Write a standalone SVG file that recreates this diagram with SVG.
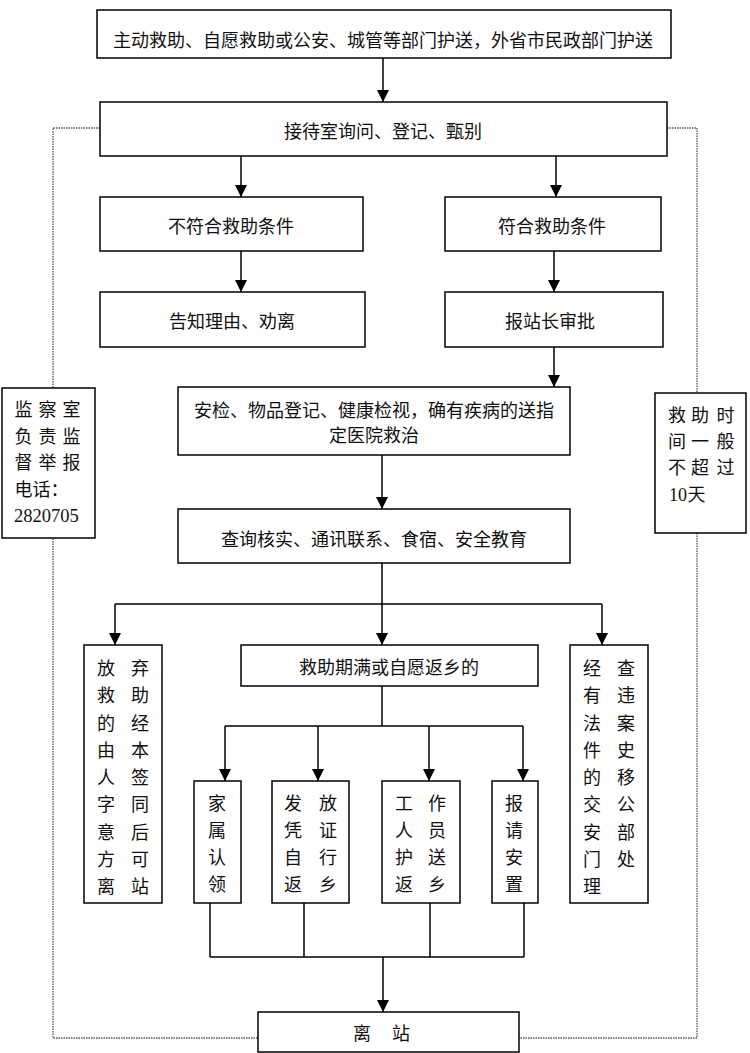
<svg xmlns="http://www.w3.org/2000/svg" width="750" height="1053" viewBox="0 0 750 1053">
<style>
.box{fill:#fff;stroke:#000;stroke-width:1.5}
.t{font-family:"Liberation Serif","Noto Sans CJK SC",serif;font-size:18px;fill:#111}
.c{text-anchor:middle}
.ln{fill:none;stroke:#000;stroke-width:1.5}
.dot{fill:none;stroke:#555;stroke-width:1.3;stroke-dasharray:1.5 1}
</style>
<defs>
<marker id="ah" markerUnits="userSpaceOnUse" markerWidth="12" markerHeight="12" refX="12" refY="6" orient="auto">
<path d="M0,0 L12,6 L0,12 z" fill="#000"/>
</marker>
</defs>
<g id="feedback">
<path class="dot" d="M100,128 H53 V1038 H258"/>
<path class="dot" d="M667,128 H697 V1038 H519"/>
</g>
<g id="connectors">
<path class="ln" d="M383,58 V102" marker-end="url(#ah)"/>
<path class="ln" d="M241,156 V197" marker-end="url(#ah)"/>
<path class="ln" d="M556,156 V197" marker-end="url(#ah)"/>
<path class="ln" d="M241,251 V292" marker-end="url(#ah)"/>
<path class="ln" d="M554,251 V292" marker-end="url(#ah)"/>
<path class="ln" d="M554,347 V387" marker-end="url(#ah)"/>
<path class="ln" d="M382,455 V509" marker-end="url(#ah)"/>
<path class="ln" d="M382,563 V604 M115,604 H602"/>
<path class="ln" d="M115,604 V645" marker-end="url(#ah)"/>
<path class="ln" d="M382,604 V645" marker-end="url(#ah)"/>
<path class="ln" d="M602,604 V645" marker-end="url(#ah)"/>
<path class="ln" d="M382,686 V726 M225,726 H523"/>
<path class="ln" d="M225,726 V781" marker-end="url(#ah)"/>
<path class="ln" d="M318,726 V781" marker-end="url(#ah)"/>
<path class="ln" d="M429,726 V781" marker-end="url(#ah)"/>
<path class="ln" d="M523,726 V781" marker-end="url(#ah)"/>
<path class="ln" d="M210,903 V957 M304,903 V957 M430,903 V957 M524,903 V957 M210,957 H524"/>
<path class="ln" d="M383,957 V1012" marker-end="url(#ah)"/>
</g>
<g id="n_top">
<rect class="box" x="97" y="10" width="574" height="48"/>
<text class="t c" x="383" y="46.5">主动救助、自愿救助或公安、城管等部门护送，外省市民政部门护送</text>
</g>
<g id="n_reception">
<rect class="box" x="100" y="102" width="567" height="54"/>
<text class="t c" x="383" y="137.5">接待室询问、登记、甄别</text>
</g>
<g id="n_unqualified">
<rect class="box" x="100" y="197" width="263" height="54"/>
<text class="t c" x="231" y="233">不符合救助条件</text>
</g>
<g id="n_qualified">
<rect class="box" x="445" y="197" width="216" height="54"/>
<text class="t c" x="552" y="233">符合救助条件</text>
</g>
<g id="n_inform">
<rect class="box" x="100" y="292" width="265" height="55"/>
<text class="t c" x="232" y="328">告知理由、劝离</text>
</g>
<g id="n_approve">
<rect class="box" x="445" y="292" width="218" height="55"/>
<text class="t c" x="550" y="328">报站长审批</text>
</g>
<g id="n_check">
<rect class="box" x="178" y="387" width="392" height="68"/>
<text class="t c" x="374" y="416.5">安检、物品登记、健康检视，确有疾病的送指</text>
<text class="t c" x="374" y="441.5">定医院救治</text>
</g>
<g id="n_inquiry">
<rect class="box" x="178" y="509" width="392" height="54"/>
<text class="t c" x="374" y="545.5">查询核实、通讯联系、食宿、安全教育</text>
</g>
<g id="n_giveup">
<rect class="box" x="84" y="645" width="78" height="258"/>
<text class="t c" x="106 140" y="675">放弃</text>
<text class="t c" x="106 140" y="702">救助</text>
<text class="t c" x="106 140" y="729.5">的经</text>
<text class="t c" x="106 140" y="757">由本</text>
<text class="t c" x="106 140" y="784">人签</text>
<text class="t c" x="106 140" y="811">字同</text>
<text class="t c" x="106 140" y="838.5">意后</text>
<text class="t c" x="106 140" y="866">方可</text>
<text class="t c" x="106 140" y="893">离站</text>
</g>
<g id="n_expire">
<rect class="box" x="241" y="645" width="297" height="41"/>
<text class="t c" x="389" y="673.5">救助期满或自愿返乡的</text>
</g>
<g id="n_police">
<rect class="box" x="570" y="645" width="78" height="258"/>
<text class="t c" x="592 626" y="675">经查</text>
<text class="t c" x="592 626" y="702">有违</text>
<text class="t c" x="592 626" y="729.5">法案</text>
<text class="t c" x="592 626" y="757">件史</text>
<text class="t c" x="592 626" y="784">的移</text>
<text class="t c" x="592 626" y="811">交公</text>
<text class="t c" x="592 626" y="838.5">安部</text>
<text class="t c" x="592 626" y="866">门处</text>
<text class="t c" x="592" y="893">理</text>
</g>
<g id="n_family">
<rect class="box" x="194" y="781" width="47" height="122"/>
<text class="t c" x="217" y="809.5">家</text>
<text class="t c" x="217" y="836.5">属</text>
<text class="t c" x="217" y="863.5">认</text>
<text class="t c" x="217" y="891">领</text>
</g>
<g id="n_voucher">
<rect class="box" x="272" y="781" width="77" height="122"/>
<text class="t c" x="293 328" y="809.5">发放</text>
<text class="t c" x="293 328" y="836.5">凭证</text>
<text class="t c" x="293 328" y="863.5">自行</text>
<text class="t c" x="293 328" y="891">返乡</text>
</g>
<g id="n_escort">
<rect class="box" x="382" y="781" width="78" height="122"/>
<text class="t c" x="404 437" y="809.5">工作</text>
<text class="t c" x="404 437" y="836.5">人员</text>
<text class="t c" x="404 437" y="863.5">护送</text>
<text class="t c" x="404 437" y="891">返乡</text>
</g>
<g id="n_settle">
<rect class="box" x="492" y="781" width="46" height="122"/>
<text class="t c" x="514" y="809.5">报</text>
<text class="t c" x="514" y="836.5">请</text>
<text class="t c" x="514" y="863.5">安</text>
<text class="t c" x="514" y="891">置</text>
</g>
<g id="n_leave">
<rect class="box" x="258" y="1012" width="261" height="40"/>
<text class="t c" x="362 401" y="1039.5">离站</text>
</g>
<g id="n_supervise">
<rect class="box" x="2" y="388" width="93" height="150"/>
<text class="t c" x="23.5 47.5 71.5" y="416">监察室</text>
<text class="t c" x="23.5 47.5 71.5" y="442.5">负责监</text>
<text class="t c" x="23.5 47.5 71.5" y="469">督举报</text>
<text class="t" x="14.5" y="495.5">电话：</text>
<text class="t" x="14" y="522" style="font-size:18.5px">2820705</text>
</g>
<g id="n_duration">
<rect class="box" x="655" y="393" width="91" height="140"/>
<text class="t c" x="677 700 725.5" y="421.5">救助时</text>
<text class="t c" x="677 700 725.5" y="448">间一般</text>
<text class="t c" x="677 700 725.5" y="474">不超过</text>
<text class="t" x="669" y="500.5">10</text>
<text class="t" x="687.5" y="500.5">天</text>
</g>
</svg>
